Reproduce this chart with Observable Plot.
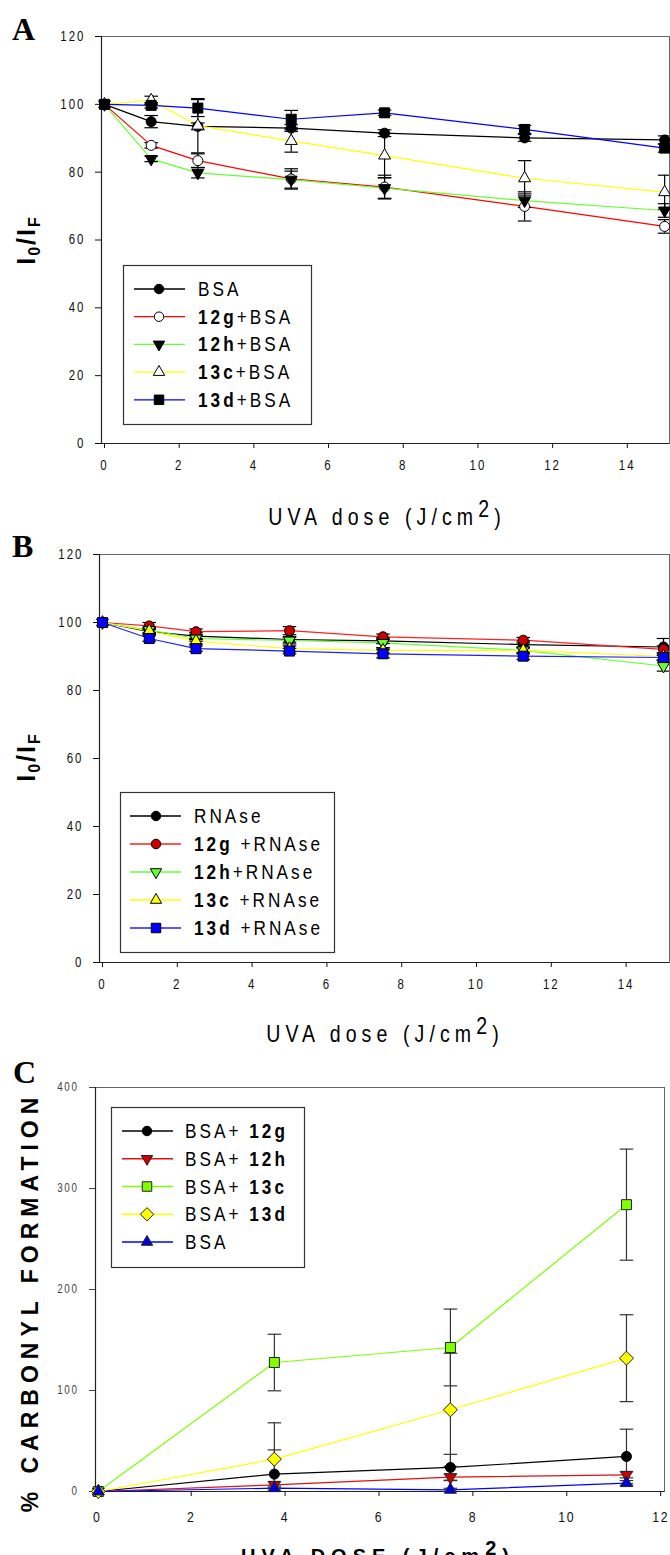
<!DOCTYPE html>
<html><head><meta charset="utf-8">
<script src="https://cdn.jsdelivr.net/npm/d3@7"></script>
<script src="https://cdn.jsdelivr.net/npm/@observablehq/plot@0.6"></script>
<style>
body{margin:0;background:#fff;}
#page{position:relative;width:670px;height:1555px;overflow:hidden;background:#fff;}
</style></head><body><div id="page"></div>
<script>
// ---------------- data ----------------
const doseAB = [0, 1.25, 2.5, 5, 7.5, 11.25, 15];
const doseC = [0, 3.75, 7.5, 11.25];
const xTicksAB = [0, 2, 4, 6, 8, 10, 12, 14];
const yTicksAB = [0, 20, 40, 60, 80, 100, 120];
const xTicksC = [0, 2, 4, 6, 8, 10, 12];
const yTicksC = [0, 100, 200, 300, 400];

// Panel A (I0/IF, BSA)
const namesA = ["BSA", "12g+BSA", "12h+BSA", "13c+BSA", "13d+BSA"];
const a_BSA = [100, 94.9, 93.5, 93.0, 91.5, 90.1, 89.5];
const a_BSA_err = [0, 1.8, 1.0, 1.0, 1.0, 1.0, 1.2];
const a_12g = [100, 87.9, 83.4, 78.0, 75.6, 69.9, 64.0];
const a_12g_err = [0, 0.8, 2.0, 3.0, 3.5, 4.3, 2.0];
const a_12h = [100, 83.9, 79.8, 77.8, 75.3, 71.6, 68.7];
const a_12h_err = [0, 0.8, 1.5, 2.5, 3.0, 2.0, 2.0];
const a_13c = [100, 101.2, 93.7, 89.2, 84.9, 78.2, 74.1];
const a_13c_err = [0, 1.2, 8.0, 3.3, 6.5, 5.2, 5.0];
const a_13d = [100, 99.7, 98.9, 95.6, 97.5, 92.6, 87.1];
const a_13d_err = [0, 0.8, 2.5, 2.6, 0.8, 1.2, 1.2];

// Panel B (I0/IF, RNAse)
const namesB = ["RNAse", "12g +RNAse", "12h+RNAse", "13c +RNAse", "13d +RNAse"];
const b_RN = [100, 97.3, 96.0, 95.0, 94.6, 93.5, 92.8];
const b_RN_err = [0, 0.8, 1.0, 0.8, 0.8, 1.0, 2.5];
const b_12g = [100, 99.0, 97.3, 97.6, 95.8, 94.8, 92.1];
const b_12g_err = [0, 1.0, 0.8, 1.2, 0.8, 0.8, 1.0];
const b_12h = [100, 97.8, 95.3, 94.7, 94.0, 91.8, 87.2];
const b_12h_err = [0, 0.8, 0.8, 1.0, 1.5, 1.0, 1.5];
const b_13c = [100, 97.5, 94.5, 92.3, 91.8, 91.8, 90.0];
const b_13c_err = [0, 0.8, 0.8, 0.8, 0.8, 0.8, 1.0];
const b_13d = [100, 95.3, 92.3, 91.6, 90.8, 90.1, 89.7];
const b_13d_err = [0, 0.8, 0.8, 0.8, 1.2, 1.0, 0.8];

// Panel C (% carbonyl formation)
const namesC = ["BSA+ 12g", "BSA+ 12h", "BSA+ 13c", "BSA+ 13d", "BSA"];
const c_12g = [0, 17.2, 23.8, 34.7];
const c_12g_err = [0, 24, 13, 27];
const c_12h = [0, 6.6, 14.2, 16.5];
const c_12h_err = [0, 3, 3, 3];
const c_13c = [0, 127.7, 142.6, 284];
const c_13c_err = [0, 28, 38, 55];
const c_13d = [0, 32, 80.9, 132];
const c_13d_err = [0, 36, 56, 43];
const c_BSA = [0, 3.3, 1.7, 8.3];
const c_BSA_err = [0, 2, 1.5, 2.5];

// ---------------- helpers ----------------
const SANS = "'Liberation Sans',Arial,sans-serif";
const SERIF = "'Liberation Serif','Times New Roman',serif";
const NARROW_SCALE = 0.82;
const S3 = Math.sqrt(3);
const triDown = {draw(ctx, size){const y = -Math.sqrt(size/(S3*3)); ctx.moveTo(0,-2*y); ctx.lineTo(-S3*y,y); ctx.lineTo(S3*y,y); ctx.closePath();}};
const capSym = {draw(ctx, size){const w = Math.sqrt(size/Math.PI); ctx.moveTo(-w,0); ctx.lineTo(w,0);}};
const SYM = {circle: d3.symbolCircle, square: d3.symbolSquare, triUp: d3.symbolTriangle, triDown: triDown, diamond: d3.symbolDiamond2};
function areaOf(kind, px){
  if (kind === "circle") return Math.PI*(px/2)*(px/2);
  if (kind === "square") return px*px;
  if (kind === "triUp" || kind === "triDown"){const y = px/(2*S3); return y*y*3*S3;}
  if (kind === "diamond"){const r = px/2/0.62625; return r*r;}
  return px*px;
}
const rOf = (kind, px) => Math.sqrt(areaOf(kind, px)/Math.PI);

function mkSeries(names, vals, errs, styles){
  return names.map((n,i)=>({name:n, v:vals[i], e:errs[i], ...styles[i]}));
}
const seriesA = mkSeries(namesA, [a_BSA,a_12g,a_12h,a_13c,a_13d], [a_BSA_err,a_12g_err,a_12h_err,a_13c_err,a_13d_err], [
  {line:"#000000", sym:"circle", px:10, fill:"#000", stroke:"#000"},
  {line:"#ff0000", sym:"circle", px:10, fill:"#fff", stroke:"#000"},
  {line:"#66ff33", sym:"triDown", px:12, fill:"#000", stroke:"#000"},
  {line:"#ffff00", sym:"triUp", px:12, fill:"#fff", stroke:"#000"},
  {line:"#0000ff", sym:"square", px:10, fill:"#000", stroke:"#000"}]);
const seriesB = mkSeries(namesB, [b_RN,b_12g,b_12h,b_13c,b_13d], [b_RN_err,b_12g_err,b_12h_err,b_13c_err,b_13d_err], [
  {line:"#000000", sym:"circle", px:10, fill:"#000", stroke:"#000"},
  {line:"#ff2020", sym:"circle", px:10, fill:"#cc0000", stroke:"#000"},
  {line:"#66ff33", sym:"triDown", px:12, fill:"#66ff33", stroke:"#000"},
  {line:"#ffff00", sym:"triUp", px:12, fill:"#ffff00", stroke:"#000"},
  {line:"#2020ff", sym:"square", px:10, fill:"#0000ff", stroke:"#000"}]);
const seriesC = mkSeries(namesC, [c_12g,c_12h,c_13c,c_13d,c_BSA], [c_12g_err,c_12h_err,c_13c_err,c_13d_err,c_BSA_err], [
  {line:"#000000", sym:"circle", px:10, fill:"#000", stroke:"#000"},
  {line:"#dd1111", sym:"triDown", px:12, fill:"#cc0000", stroke:"#222"},
  {line:"#80ff00", sym:"square", px:10, fill:"#80ff00", stroke:"#222"},
  {line:"#ffff00", sym:"diamond", px:14, fill:"#ffff00", stroke:"#222"},
  {line:"#0000ff", sym:"triUp", px:12, fill:"#0000dd", stroke:"#222"}]);

const page = document.getElementById("page");

function narrowTicks(svg){
  svg.querySelectorAll('g[aria-label$="tick label"] text').forEach(t => {
    const tr = t.getAttribute("transform");
    if (tr) t.setAttribute("transform", tr + ` scale(${NARROW_SCALE},1)`);
  });
}

function makePanel(cfg){
  const rows = [];
  cfg.series.forEach(s => cfg.x.forEach((xv,j) => rows.push({s:s.name, x:xv, y:s.v[j], e:s.e[j]})));
  const errRows = rows.filter(d => d.e > 0);
  const marks = [
    Plot.frame({stroke: "#666"}),
    Plot.ruleX([cfg.xDomain[0]], {stroke:"#222", strokeWidth:1.2}),
    Plot.ruleY([cfg.yDomain[0]], {stroke:"#222", strokeWidth:1.2}),
    Plot.axisX({ticks: cfg.xTicks, tickSize: 5, tickPadding: cfg.xPad, tickFormat: d => String(d), fontSize: cfg.xFont, label: null, color: "#111", dx: cfg.xdx || 0}),
    Plot.axisY({ticks: cfg.yTicks, tickSize: 6, tickPadding: cfg.yPad, tickFormat: d => String(d), fontSize: cfg.yFont, label: null, color: cfg.yColor || "#111"}),
    ...cfg.series.map(s => Plot.line(rows.filter(d => d.s === s.name), {x:"x", y:"y", stroke:s.line, strokeWidth:1.2})),
    Plot.ruleX(errRows, {x:"x", y1: d => d.y - d.e, y2: d => d.y + d.e, stroke: cfg.err, strokeWidth:1.2, clip: true}),
    Plot.dot(errRows, {x:"x", y: d => d.y + d.e, symbol: capSym, r: rOf("cap", 12), stroke: cfg.err, fill:"none", strokeWidth:1.2, clip: true}),
    Plot.dot(errRows, {x:"x", y: d => d.y - d.e, symbol: capSym, r: rOf("cap", 12), stroke: cfg.err, fill:"none", strokeWidth:1.2, clip: true}),
    ...cfg.series.map(s => Plot.dot(rows.filter(d => d.s === s.name), {x:"x", y:"y", symbol: SYM[s.sym], r: rOf(s.sym, s.px), fill: s.fill, stroke: s.stroke, strokeWidth: 1}))
  ];
  const svg = Plot.plot({
    width: 670, height: cfg.height,
    marginTop: cfg.mt, marginBottom: cfg.mb, marginLeft: cfg.ml, marginRight: cfg.mr,
    x: {domain: cfg.xDomain},
    y: {domain: cfg.yDomain},
    style: {fontFamily: SANS, fontSize: "14px", letterSpacing: cfg.ls || "2.5px", background: "transparent", overflow: "visible"},
    marks
  });
  narrowTicks(svg);
  svg.style.position = "absolute";
  svg.style.left = "0px";
  svg.style.top = cfg.top + "px";
  page.appendChild(svg);
}

makePanel({top:0, height:475, mt:36, mb:32, ml:101, mr:1, x:doseAB, xDomain:[-0.08,15.13], yDomain:[0,120],
  xTicks:xTicksAB, yTicks:yTicksAB, xPad:12, yPad:10, xFont:14, yFont:14, series:seriesA, err:"#000"});
makePanel({top:500, height:500, mt:54, mb:38, ml:99, mr:1, x:doseAB, xDomain:[-0.08,15.16], yDomain:[0,120],
  xTicks:xTicksAB, yTicks:yTicksAB, xPad:12, yPad:10, xFont:14, yFont:14, series:seriesB, err:"#000"});
makePanel({top:1050, height:480, mt:37, mb:39, ml:95, mr:6, x:doseC, xDomain:[-0.06,12.06], yDomain:[0,400],
  xTicks:xTicksC, yTicks:yTicksC, xPad:15, yPad:11, xFont:15, yFont:12, yColor:"#444", series:seriesC, err:"#333", ls:"2px", xdx:-1});

// ---------------- overlay texts & legends ----------------
const ov = d3.create("svg").attr("width",670).attr("height",1555)
  .style("position","absolute").style("left","0px").style("top","0px");
page.appendChild(ov.node());

// panel letters
[["A",12,40],["B",12,557],["C",13,1083]].forEach(([t,x,y]) =>
  ov.append("text").attr("x",x).attr("y",y).attr("font-family",SERIF).attr("font-weight","bold").attr("font-size",32).text(t));

// y labels I0/IF
function ioif(cx, cy){
  const t = ov.append("text").attr("transform",`translate(${cx},${cy}) rotate(-90)`).attr("text-anchor","middle")
    .attr("font-family",SANS).attr("font-weight","bold").attr("font-size",25).attr("letter-spacing","2px");
  t.append("tspan").text("I");
  t.append("tspan").attr("font-size",16).attr("dy",5).text("0");
  t.append("tspan").attr("dy",-5).text("/I");
  t.append("tspan").attr("font-size",16).attr("dy",5).text("F");
}
ioif(35, 240);
ioif(35, 757);
ov.append("text").attr("transform","translate(38,1302) rotate(-90)").attr("text-anchor","middle")
  .attr("font-family",SANS).attr("font-weight","bold").attr("font-size",23).attr("letter-spacing","6px")
  .text("% CARBONYL FORMATION");

// x labels
function uva(cx, by, caps){
  const t = ov.append("text").attr("transform", `translate(${cx},${by}) scale(${caps ? 1 : 0.85},1)`).attr("text-anchor","middle")
    .attr("font-family", SANS).attr("font-weight", caps ? "bold" : "normal")
    .attr("font-size", caps ? 20 : 23).attr("letter-spacing", caps ? "6px" : "6px");
  t.append("tspan").text(caps ? "UVA DOSE (J/cm" : "UVA dose (J/cm");
  t.append("tspan").attr("dy",-8).text("2");
  t.append("tspan").attr("dy",8).text(")");
}
uva(387, 525, false);
uva(385, 1042, false);
uva(378, 1563, true);

// legends
function legend(series, box, lineX0, lineX1, markX, textX, rowY0, rowStep){
  const g = ov.append("g");
  g.append("rect").attr("x",box[0]+0.5).attr("y",box[1]+0.5).attr("width",box[2]).attr("height",box[3])
    .attr("fill","#fff").attr("stroke","#333").attr("stroke-width",1.2);
  series.forEach((s,i) => {
    const y = rowY0 + i*rowStep;
    g.append("line").attr("x1",lineX0).attr("x2",lineX1).attr("y1",y).attr("y2",y).attr("stroke",s.line).attr("stroke-width",1.3);
    g.append("path").attr("transform",`translate(${markX},${y})`)
      .attr("d", d3.symbol(SYM[s.sym], areaOf(s.sym, s.px*0.95))())
      .attr("fill", s.fill).attr("stroke", s.stroke).attr("stroke-width",1);
    const t = g.append("text").attr("transform",`translate(${textX},${y+7}) scale(0.86,1)`)
      .attr("font-family",SANS).attr("font-size",20).attr("letter-spacing","3.5px");
    s.name.split(/(1\d[a-z])/).filter(p => p.length).forEach(p => {
      const sp = t.append("tspan").text(p);
      if (/^1\d[a-z]$/.test(p)) sp.attr("font-weight","bold");
    });
  });
}
legend(seriesA, [123,265,188,159], 134, 185, 159, 198, 289, 27.7);
legend(seriesB, [120,792,214,160], 130, 181, 156, 194, 816, 28);
legend(seriesC, [111,1107,193,160], 122, 173, 147, 185, 1131, 27.75);
</script></body></html>
